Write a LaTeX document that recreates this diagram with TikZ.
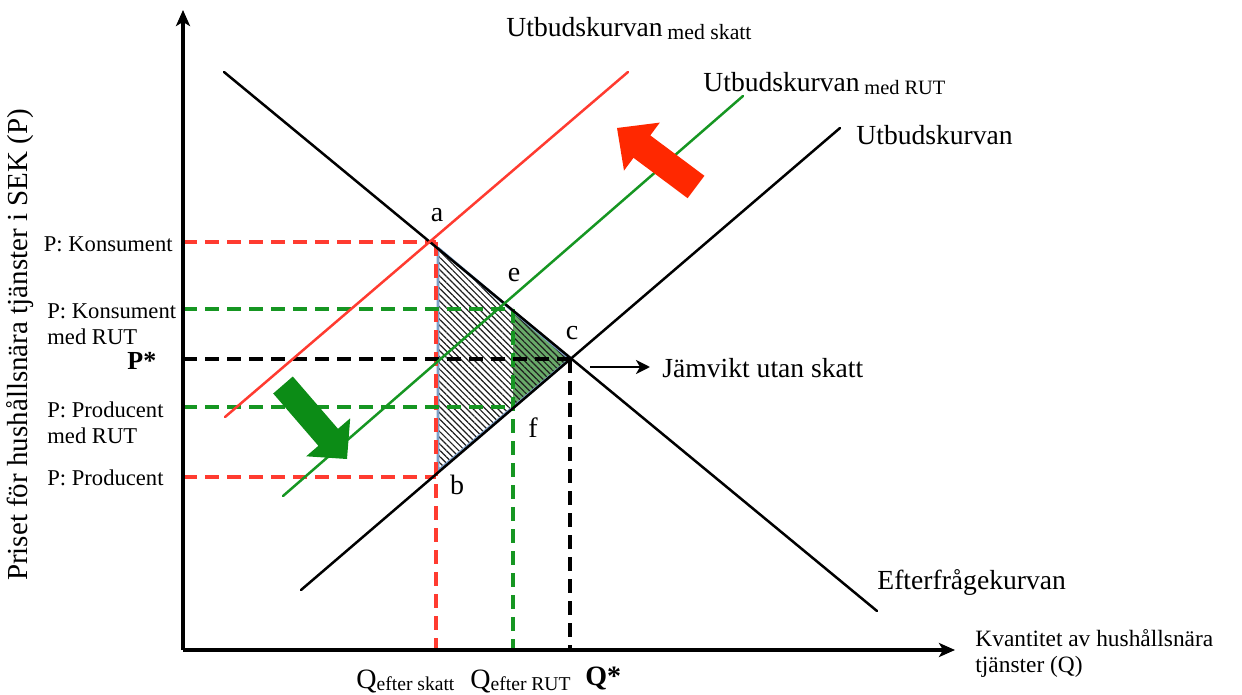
\documentclass[tikz,border=0pt]{standalone}
\usepackage{fontspec}
\setmainfont{Liberation Serif}
\usetikzlibrary{arrows.meta,patterns.meta,calc}
\definecolor{sred}{RGB}{255,59,48}
\definecolor{sgreen}{RGB}{22,150,34}
\definecolor{fred}{RGB}{255,40,0}
\definecolor{fgreen}{RGB}{12,140,22}
\definecolor{outl}{RGB}{125,160,200}
\definecolor{gfill}{RGB}{105,170,105}
\definecolor{dblack}{RGB}{30,30,30}
\begin{document}
\begin{tikzpicture}[x=0.5pt,y=-0.5pt,
  curve/.style={line width=1.25pt,line cap=round},
  axis/.style={line width=1.6pt,-{Stealth[length=8pt,width=7pt,inset=2pt]}},
  dsh/.style={line width=1.6pt,dash pattern=on 7pt off 4pt},
  big/.style={font=\fontsize{13.8}{16}\selectfont,inner sep=0pt},
  plbl/.style={font=\fontsize{11.3}{13}\selectfont,inner sep=0pt,align=left},
  pt/.style={font=\fontsize{14}{16}\selectfont,inner sep=0pt}]
\useasboundingbox (0,0) rectangle (1242,695);
% key points
\coordinate (O) at (183,650);
\coordinate (Ytop) at (183,10);
\coordinate (Xend) at (955,650);
\coordinate (D1) at (224,72);
\coordinate (D2) at (877,611);
\coordinate (S1) at (301,590);
\coordinate (S2) at (840,128);
\coordinate (R1) at (225,417);
\coordinate (R2) at (628,72);
\coordinate (G1) at (283,496);
\coordinate (G2) at (743,96);
\coordinate (a) at (436,242);
\coordinate (b) at (436,477);
\coordinate (c) at (570,359);
\coordinate (e) at (513,309);
\coordinate (f) at (513,407);
\coordinate (At) at (438,248);
\coordinate (Bt) at (438,471);
\coordinate (Et) at (513,310);
\coordinate (Ft) at (513,407);
% green filled triangle and hatching
\fill[gfill] (Et) -- (c) -- (Ft) -- cycle;
\fill[pattern={Lines[angle=-45,distance=2.2pt,line width=0.6pt]},pattern color=dblack] (At) -- (c) -- (Bt) -- cycle;
\draw[outl,line width=1.4pt,line join=round] (At) -- (c) -- (Bt) -- cycle;
% dashed guide lines
\draw[dsh,sred] (a -| O) -- (a);
\draw[dsh,sred] (a) -- (a |- O);
\draw[dsh,sred] (b -| O) -- (b);
\draw[dsh,sgreen] (e -| O) -- (e);
\draw[dsh,sgreen] (f -| O) -- (f);
\draw[dsh,sgreen] (e) -- (e |- O);
\draw[dsh,black] (c -| O) -- (c);
\draw[dsh,black] (c) -- (c |- O);
% curves
\draw[curve,black] (D1) -- (D2);
\draw[curve,black] (S1) -- (S2);
\draw[curve,sred] (R1) -- (R2);
\draw[curve,sgreen] (G1) -- (G2);
% fat arrows
\fill[fred] (704.4,175.8) -- (650.3,135.4) -- (659.8,122.6) -- (617,128) -- (624,170.6) -- (633.5,157.8) -- (687.6,198.2) -- cycle;
\fill[fgreen] (292.8,376.5) -- (338,428.8) -- (350.2,418.3) -- (347,459) -- (306.2,456.3) -- (318.4,445.8) -- (273.2,393.5) -- cycle;
% axes
\draw[axis] (O) -- (Ytop);
\draw[axis] (O) -- (Xend);
% equilibrium arrow
\coordinate (J1) at (590,367);
\coordinate (J2) at (650,367);
\draw[line width=1.3pt,-{Stealth[length=7pt,width=7pt,inset=2pt]}] (J1) -- (J2);
\node[big,anchor=base west] (jam) at (662,377) {Jämvikt utan skatt};
% curve labels
\node[big,anchor=base west] (ls) at (506,37) {Utbudskurvan\,{\fontsize{10.9}{13}\selectfont\raisebox{-1.5pt}{med skatt}}};
\node[big,anchor=base west] (lr) at (703,92) {Utbudskurvan\,{\fontsize{10.2}{13}\selectfont\raisebox{-1.5pt}{med RUT}}};
\node[big,anchor=base west] (lu) at (856,145) {Utbudskurvan};
\node[big,anchor=base west] (le) at (877,589) {Efterfrågekurvan};
% point labels
\node[pt,anchor=base] (la) at (437,222) {a};
\node[pt,anchor=base] (lee) at (514,282) {e};
\node[pt,anchor=base] (lc) at (572,339) {c};
\node[pt,anchor=base] (lf) at (533,437) {f};
\node[pt,anchor=base] (lb) at (457,494) {b};
% price labels
\node[plbl,anchor=base east] (pk) at (173,252) {P: Konsument};
\node[plbl,anchor=north west] (pkr) at (47,303) {P: Konsument\\med RUT};
\node[pt,anchor=base west,font=\fontsize{13}{15}\selectfont\bfseries] (ps) at (127,369) {P*};
\node[plbl,anchor=north west] (ppr) at (47,401) {P: Producent\\med RUT};
\node[plbl,anchor=base west] (pp) at (47,485) {P: Producent};
% quantity labels
\node[pt,anchor=base west] (qs) at (356,688) {Q{\fontsize{9.8}{12}\selectfont\raisebox{-1pt}{efter skatt}}};
\node[pt,anchor=base west] (qr) at (470,688) {Q{\fontsize{9.8}{12}\selectfont\raisebox{-1pt}{efter RUT}}};
\node[pt,anchor=base west,font=\fontsize{14}{16}\selectfont\bfseries] (qst) at (585,685) {Q*};
% axis labels
\node[plbl,font=\fontsize{11.7}{13}\selectfont,anchor=north west] (xl) at (975,629) {Kvantitet av hushållsnära\\tjänster (Q)};
\node[inner sep=0pt,font=\fontsize{14.5}{16}\selectfont,rotate=90] (yl) at (20,345) {Priset för hushållsnära tjänster i SEK (P)};
\end{tikzpicture}
\end{document}
